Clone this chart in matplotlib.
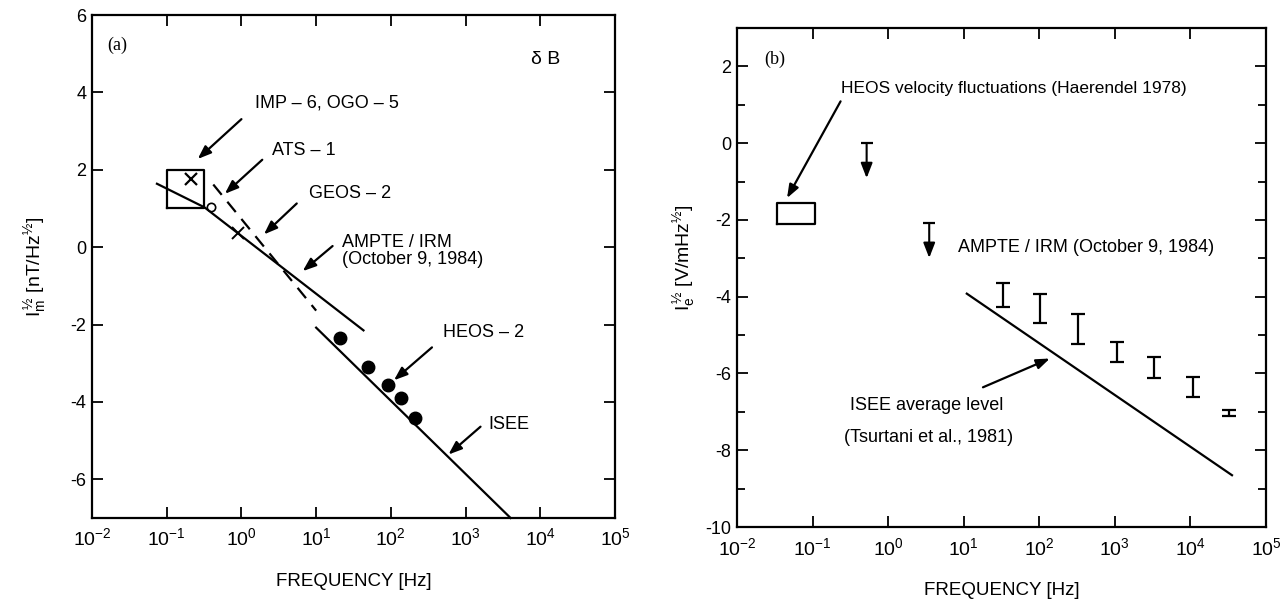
import numpy as np
import matplotlib
matplotlib.use('Agg')
import matplotlib.pyplot as plt
from matplotlib.ticker import FixedLocator, FuncFormatter, MultipleLocator

plt.rcParams['font.family'] = ['Liberation Sans', 'DejaVu Sans']
plt.rcParams['mathtext.fontset'] = 'custom'
plt.rcParams['mathtext.rm'] = 'Liberation Sans'
plt.rcParams['mathtext.it'] = 'Liberation Sans'
plt.rcParams['mathtext.bf'] = 'Liberation Sans:bold'
plt.rcParams['axes.unicode_minus'] = False

# ---------------- panel (a) : delta B ----------------
box_a_f = [0.1, 0.32]
box_a_y = [1.0, 2.0]
imp_f, imp_y = 0.21, 1.77
ats_f, ats_y = 0.39, 1.05
geos_f, geos_y = 0.89, 0.36
ampte_f = [0.074, 0.32, 43.0]
ampte_y = [1.64, 1.03, -2.15]
dashed_f = [0.42, 10.0]
dashed_y = [1.62, -1.64]
isee_a_f = [10.0, 4000.0]
isee_a_y = [-2.08, -7.0]
heos2_f = [21, 49, 91, 136, 213]
heos2_y = [-2.36, -3.10, -3.56, -3.90, -4.41]

# ---------------- panel (b) : delta E ----------------
box_b_f = [0.034, 0.107]
box_b_y = [-2.1, -1.56]
uplim_f = [0.52, 3.5]
uplim_top = [0.0, -2.08]
uplim_tip = [-0.91, -2.99]
err_f = [33, 102, 330, 1070, 3300, 10700, 32000]
err_hi = [-3.64, -3.92, -4.44, -5.17, -5.56, -6.10, -6.95]
err_lo = [-4.26, -4.68, -5.22, -5.69, -6.13, -6.62, -7.10]
isee_b_f = [11.0, 35500.0]
isee_b_y = [-3.92, -8.65]

decades = [1e-2, 1e-1, 1e0, 1e1, 1e2, 1e3, 1e4, 1e5]

fig = plt.figure(figsize=(12.85, 6.03), dpi=100)
ax1 = fig.add_axes([0.0716, 0.141, 0.407, 0.834])
ax2 = fig.add_axes([0.5735, 0.126, 0.4117, 0.8275])

def dec_fmt(v, pos):
    e = int(round(np.log10(v)))
    return r'$\mathregular{10^{%d}}$' % e

for ax in (ax1, ax2):
    ax.set_xscale('log')
    ax.set_xlim(1e-2, 1e5)
    ax.xaxis.set_major_locator(FixedLocator(decades))
    ax.xaxis.set_minor_locator(FixedLocator([]))
    ax.xaxis.set_major_formatter(FuncFormatter(dec_fmt))
    ax.tick_params(which='both', direction='in', top=True, right=True, width=1.3)
    ax.tick_params(which='major', length=8)
    ax.tick_params(which='minor', length=6)
    ax.tick_params(axis='x', labelsize=14, pad=7)
    ax.tick_params(axis='y', labelsize=13, pad=4)
    for s in ax.spines.values():
        s.set_linewidth(1.6)
    ax.set_xlabel('FREQUENCY [Hz]', fontsize=13.5, labelpad=17)

lw = 1.6
arrow_kw = dict(arrowstyle='-|>,head_length=0.8,head_width=0.3', color='k', lw=1.6,
                shrinkA=0, shrinkB=0)
fs = 13

# ---- panel (a)
ax1.set_ylim(-7, 6)
ax1.yaxis.set_major_locator(MultipleLocator(2))
ax1.set_ylabel(r'$\mathregular{I_m^{\,½}}$ [nT/Hz$^{\mathregular{½}}$]', fontsize=14)
ax1.yaxis.set_label_coords(-0.085, 0.5)

ax1.plot([box_a_f[0], box_a_f[1], box_a_f[1], box_a_f[0], box_a_f[0]],
         [box_a_y[0], box_a_y[0], box_a_y[1], box_a_y[1], box_a_y[0]], color='k', lw=lw)
ax1.plot(imp_f, imp_y, marker='x', color='k', ms=8, mew=1.6)
ax1.plot(ats_f, ats_y, marker='o', color='k', ms=6, mfc='white', mew=1.2)
ax1.plot(geos_f, geos_y, marker='x', color='k', ms=8, mew=1.4)
ax1.plot(ampte_f, ampte_y, color='k', lw=lw)
ax1.plot(dashed_f, dashed_y, color='k', lw=lw, dashes=(6, 4))
ax1.plot(isee_a_f, isee_a_y, color='k', lw=lw, clip_on=False)
ax1.plot(heos2_f, heos2_y, 'o', color='k', ms=9)

ax1.annotate('', xy=(0.26, 2.28), xytext=(1.0, 3.31), arrowprops=arrow_kw)
ax1.text(1.5, 3.74, 'IMP – 6, OGO – 5', fontsize=fs, va='center')
ax1.annotate('', xy=(0.6, 1.38), xytext=(1.9, 2.26), arrowprops=arrow_kw)
ax1.text(2.6, 2.51, 'ATS – 1', fontsize=fs, va='center')
ax1.annotate('', xy=(2.0, 0.33), xytext=(5.5, 1.13), arrowprops=arrow_kw)
ax1.text(8.0, 1.38, 'GEOS – 2', fontsize=fs, va='center')
ax1.annotate('', xy=(6.6, -0.62), xytext=(16.6, 0.03), arrowprops=arrow_kw)
ax1.text(22, -0.1, 'AMPTE / IRM\n(October 9, 1984)', fontsize=fs, va='center',
         linespacing=1.05)
ax1.annotate('', xy=(110, -3.44), xytext=(355, -2.59), arrowprops=arrow_kw)
ax1.text(500, -2.2, 'HEOS – 2', fontsize=fs, va='center')
ax1.annotate('', xy=(590, -5.36), xytext=(1585, -4.64), arrowprops=arrow_kw)
ax1.text(2040, -4.59, 'ISEE', fontsize=fs, va='center')
ax1.text(7600, 4.85, 'δ B', fontsize=fs + 1, va='center')
ax1.text(0.016, 5.23, '(a)', fontsize=fs, va='center', family='Liberation Serif')

# ---- panel (b)
ax2.set_ylim(-10, 3)
ax2.yaxis.set_major_locator(FixedLocator([-10, -8, -6, -4, -2, 0, 2]))
ax2.yaxis.set_minor_locator(MultipleLocator(1))
ax2.set_ylabel(r'$\mathregular{I_e^{\,½}}$ [V/mHz$^{\mathregular{½}}$]', fontsize=14)
ax2.yaxis.set_label_coords(-0.075, 0.54)

ax2.plot([box_b_f[0], box_b_f[1], box_b_f[1], box_b_f[0], box_b_f[0]],
         [box_b_y[0], box_b_y[0], box_b_y[1], box_b_y[1], box_b_y[0]], color='k', lw=lw)
for f, top, tip in zip(uplim_f, uplim_top, uplim_tip):
    ax2.annotate('', xy=(f, tip), xytext=(f, top),
                 arrowprops=dict(arrowstyle='-|>,head_length=0.9,head_width=0.35',
                                 color='k', lw=1.5, shrinkA=0, shrinkB=0))
    ax2.plot(f, top, marker='_', color='k', ms=9, mew=1.6)
err_mid = [(h + l) / 2 for h, l in zip(err_hi, err_lo)]
err_half = [(h - l) / 2 for h, l in zip(err_hi, err_lo)]
ax2.errorbar(err_f, err_mid, yerr=err_half, fmt='none', ecolor='k', elinewidth=1.6,
             capsize=5, capthick=1.6)
ax2.plot(isee_b_f, isee_b_y, color='k', lw=lw)

ax2.annotate('', xy=(0.046, -1.43), xytext=(0.235, 1.09), arrowprops=arrow_kw)
ax2.text(0.235, 1.43, 'HEOS velocity fluctuations (Haerendel 1978)', fontsize=12.5,
         va='center')
ax2.text(8.3, -2.73, 'AMPTE / IRM (October 9, 1984)', fontsize=fs, va='center')
ax2.annotate('', xy=(138, -5.61), xytext=(18, -6.36), arrowprops=arrow_kw)
ax2.text(0.316, -6.83, 'ISEE average level', fontsize=fs, va='center')
ax2.text(0.26, -7.66, '(Tsurtani et al., 1981)', fontsize=fs, va='center')
ax2.text(0.023, 2.18, '(b)', fontsize=fs, va='center', family='Liberation Serif')

fig.savefig('out.png', dpi=100)
